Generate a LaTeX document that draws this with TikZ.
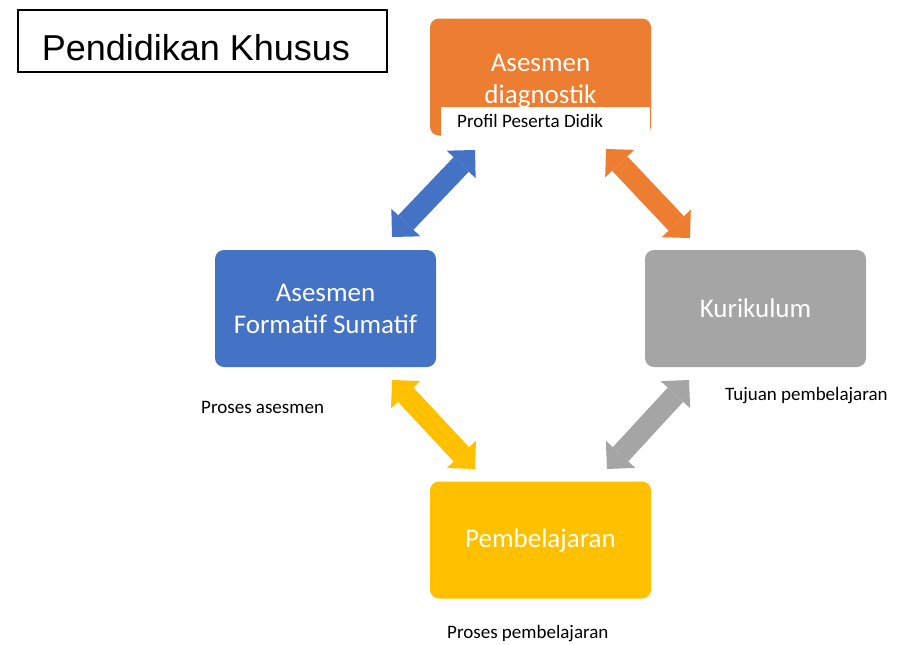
\documentclass[tikz,border=0pt]{standalone}
\usepackage{fontspec}
\setmainfont{Carlito}
\newfontfamily\arialfont{Liberation Sans}
\usetikzlibrary{arrows.meta}

\definecolor{cOrange}{HTML}{ED7D31}
\definecolor{cBlue}{HTML}{4472C4}
\definecolor{cGray}{HTML}{A5A5A5}
\definecolor{cYellow}{HTML}{FFC000}

\tikzset{
  stage/.style={rounded corners=9pt, minimum width=221pt, minimum height=117pt,
    inner sep=0pt, text=white, align=center,
    font=\fontsize{27}{32}\selectfont},
  note/.style={inner sep=0pt, anchor=base west, font=\fontsize{19}{23}\selectfont},
  cycle/.style={line width=21pt,
    {Triangle[length=20pt,width=40pt,line width=0pt]}-{Triangle[length=20pt,width=40pt,line width=0pt]}},
}

\begin{document}
\begin{tikzpicture}[x=1pt,y=-1pt]
\useasboundingbox (0,0) rectangle (921,645);

% heading
\node[draw, line width=1.6pt, anchor=north west, inner xsep=24pt, inner ysep=11pt,
      text height=40pt, text depth=0pt,
      font=\arialfont\fontsize{36}{40}\selectfont] (title) at (17,9)
      {\makebox[321pt][l]{Pendidikan Khusus}};

% the four stages
\node[stage, fill=cOrange] (diag) at (540.5,77) {\rule{0pt}{25pt}Asesmen\\diagnostik};
\node[stage, fill=cBlue]   (form) at (325.5,308.5) {Asesmen\\Formatif Sumatif};
\node[stage, fill=cGray]   (kur)  at (755.5,308.5) {Kurikulum};
\node[stage, fill=cYellow] (pemb) at (540.5,540) {Pembelajaran};

% caption strip over the diagnostic box
\node[fill=white, anchor=north west, inner xsep=16pt, inner ysep=0pt,
      text height=20pt, text depth=9pt,
      font=\fontsize{19}{23}\selectfont] (profil) at (441,107)
      {\makebox[177pt][l]{Profil Peserta Didik}};

% side notes
\node[note] (nAses) at (201,413) {Proses asesmen};
\node[note] (nTuj)  at (725,400) {Tujuan pembelajaran};
\node[note] (nPemb) at (447,638) {Proses pembelajaran};

% arrow end points
\coordinate (bA) at (392,237);
\coordinate (bB) at (475,150);
\coordinate (oA) at (606,149);
\coordinate (oB) at (690,238);
\coordinate (yA) at (392,380);
\coordinate (yB) at (475,469);
\coordinate (gA) at (689,380);
\coordinate (gB) at (607,469);

% double arrows of the cycle
\draw[cycle, cBlue]   (bA) -- (bB);
\draw[cycle, cOrange] (oA) -- (oB);
\draw[cycle, cYellow] (yA) -- (yB);
\draw[cycle, cGray]   (gA) -- (gB);
\end{tikzpicture}
\end{document}
